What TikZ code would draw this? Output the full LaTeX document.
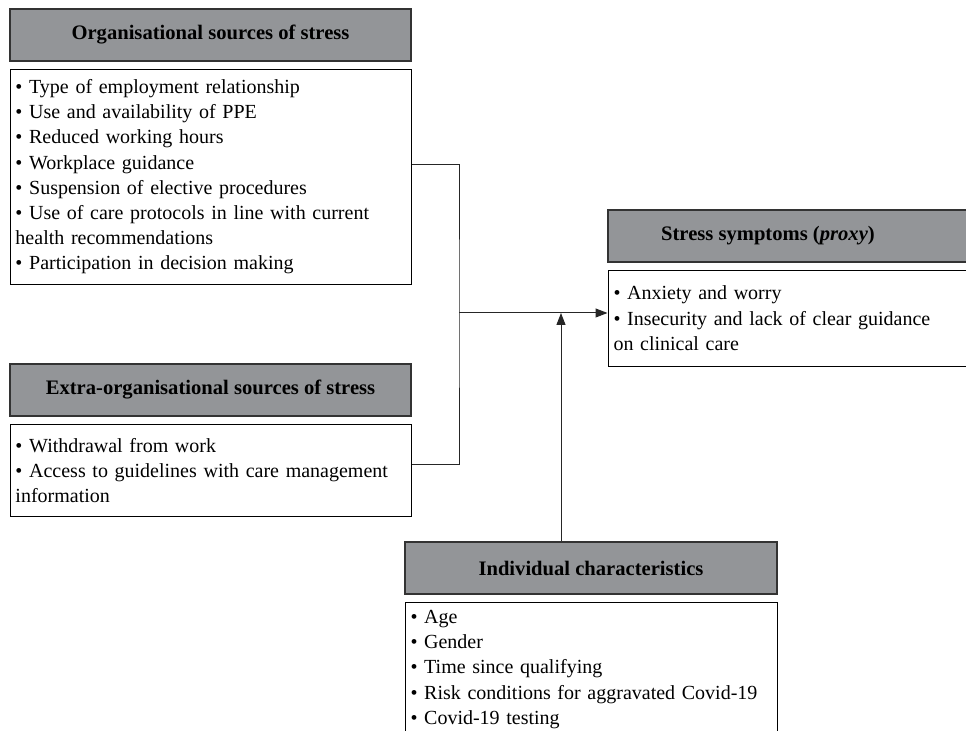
\documentclass[tikz,border=0pt]{standalone}
\usepackage{fontspec}
\setmainfont{Liberation Serif}
\usetikzlibrary{positioning, arrows.meta}
\definecolor{headgray}{RGB}{147,149,152}

\begin{document}
\begin{tikzpicture}[x=0.5pt, y=-0.5pt,
     node distance = 3.5pt and 3.5pt,
       head/.style = {rectangle, draw=black!80, line width=0.8pt, fill=headgray,
                      minimum width=200.5pt, minimum height=26pt,
                      font=\bfseries\fontsize{10.3}{12.6}\selectfont},
       body/.style = {rectangle, draw, line width=0.5pt, fill=white,
                      text width=195pt, inner xsep=2.75pt, inner ysep=4pt,
                      align=left, font=\fontsize{10}{12.6}\selectfont},
       link/.style = {draw=black!85, line width=0.5pt},
      arrowtip/.style = {-{Triangle[length=6pt, width=4.5pt]}}
                        ]
\useasboundingbox (0,0) rectangle (966,731);
% sources of stress
\node (orghead) [head] at (210.5,35) {Organisational sources of stress};
\node (orgbody) [body, below=of orghead, minimum height=107.5pt]
  {• Type of employment relationship\\
   • Use and availability of PPE\\
   • Reduced working hours\\
   • Workplace guidance\\
   • Suspension of elective procedures\\
   • Use of care protocols in line with current\\
   health recommendations\\
   • Participation in decision making};
\node (extrahead) [head] at (210.5,390) {Extra-organisational sources of stress};
\node (extrabody) [body, below=of extrahead, minimum height=46pt]
  {• Withdrawal from work\\
   • Access to guidelines with care management\\
   information};
% outcome
\node (symhead) [head] at (808.5,236) {};
\node (symtitle) [font=\bfseries\fontsize{10.3}{12.6}\selectfont] at (768,236)
  {Stress symptoms (\textit{proxy})};
\node (symbody) [body, below=of symhead, minimum height=48pt]
  {• Anxiety and worry\\
   • Insecurity and lack of clear guidance\\
   on clinical care};
% individual
\node (indhead) [head, minimum width=186pt] at (591,568) {Individual characteristics};
\node (indbody) [body, below=of indhead, text width=180.5pt]
  {• Age\\
   • Gender\\
   • Time since qualifying\\
   • Risk conditions for aggravated Covid-19\\
   • Covid-19 testing};
% connectors
\coordinate (jn) at (459,313);
\coordinate (jn2) at (561,313);
\draw[link] ([yshift=6.25pt]orgbody.east) -| (jn) |- ([yshift=3pt]extrabody.east);
\draw[link, arrowtip] (jn) -- (symbody.west |- jn);
\draw[link, arrowtip] (jn2 |- indhead.north) -- (jn2);
\end{tikzpicture}
\end{document}
